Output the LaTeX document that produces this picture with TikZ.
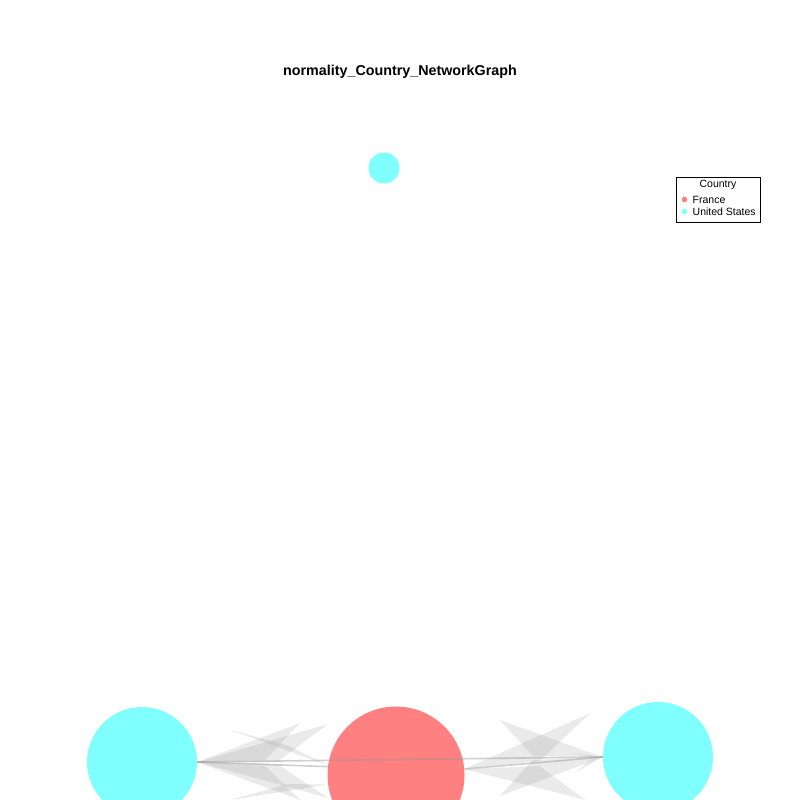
\documentclass[tikz,border=0pt]{standalone}
\usepackage{fontspec}
\setmainfont{Liberation Sans}
\usetikzlibrary{positioning,calc}
\definecolor{usacyan}{RGB}{128, 255, 255}
\definecolor{frared}{RGB}{255, 128, 128}
\definecolor{edgegray}{RGB}{150, 150, 150}

\begin{document}
\begin{tikzpicture}[x=1pt, y=-1pt,
    vertex/.style={circle, inner sep=0pt, fill=#1},
    spike/.style={fill=edgegray, fill opacity=0.2},
    edgeline/.style={draw=edgegray, line width=1.6pt, opacity=0.45},
    legtext/.style={font=\fontsize{10.5}{12}\selectfont, inner sep=0pt}]
  \useasboundingbox (0,0) rectangle (800,800);
  \clip (0,0) rectangle (800,800);
  % Title
  \node[font=\bfseries\fontsize{14.3}{16}\selectfont] (title) at (400,72) {normality\_Country\_NetworkGraph};
  % Vertices
  \node[vertex=usacyan, minimum size=110pt] (us1) at (142,762) {};
  \node[vertex=frared, minimum size=137pt] (fr) at (396,775) {};
  \node[vertex=usacyan, minimum size=110pt] (us2) at (658,757) {};
  \node[vertex=usacyan, minimum size=31pt] (us3) at (384,168) {};
  % Edges, left side
  \fill[spike] (us1.east) -- ($(us1.east)+(103,-39)$) -- ($(us1.east)+(68,-2)$) -- cycle;
  \fill[spike] (us1.east) -- ($(us1.east)+(131,-38)$) -- ($(us1.east)+(80,0)$) -- cycle;
  \fill[spike] ($(us1.east)+(31,-33)$) -- (fr.172) -- ($(us1.east)+(92,-16)$) -- cycle;
  \fill[spike] (us1.east) -- ($(us1.east)+(103,38)$) -- ($(us1.east)+(68,4)$) -- cycle;
  \fill[spike] (us1.east) -- ($(us1.east)+(131,36)$) -- ($(us1.east)+(80,2)$) -- cycle;
  \fill[spike] ($(us1.east)+(33,38)$) -- (fr.188) -- ($(us1.east)+(90,22)$) -- cycle;
  % Edges, right side
  \fill[spike] (us2.west) -- ($(us2.west)+(-103,-37)$) -- ($(us2.west)+(-70,-1)$) -- cycle;
  \fill[spike] (fr.5) -- ($(fr.5)+(126,-56)$) -- ($(fr.5)+(75,-8)$) -- cycle;
  \fill[spike] (us2.west) -- ($(us2.west)+(-103,39)$) -- ($(us2.west)+(-70,3)$) -- cycle;
  \fill[spike] (fr.5) -- ($(fr.5)+(121,31)$) -- ($(fr.5)+(75,-3)$) -- cycle;
  \fill[spike] (us2.west) -- ($(us2.west)+(-30,-4)$) -- ($(us2.west)+(-13,0)$) -- cycle;
  \fill[spike] (us2.west) -- ($(us2.west)+(-28,16)$) -- ($(us2.west)+(-13,3)$) -- cycle;
  \draw[edgeline] (us1.east) -- (us2.west);
  \draw[edgeline] (us1.east) -- (fr.173);
  \draw[edgeline] (fr.5) -- (us2.west);
  % Legend
  \node[draw=black, line width=0.5pt, minimum width=84pt, minimum height=45pt] (legend) at (718,199.5) {};
  \node[legtext] (legtitle) at (718,185) {Country};
  \fill[frared] (684.5,199.5) circle (2.8) coordinate (frdot);
  \node[legtext, anchor=west] (frlabel) at (692.5,199.5) {France};
  \fill[usacyan] (684.5,211.5) circle (2.8) coordinate (usdot);
  \node[legtext, anchor=west] (uslabel) at (692.5,211.5) {United States};
\end{tikzpicture}
\end{document}
